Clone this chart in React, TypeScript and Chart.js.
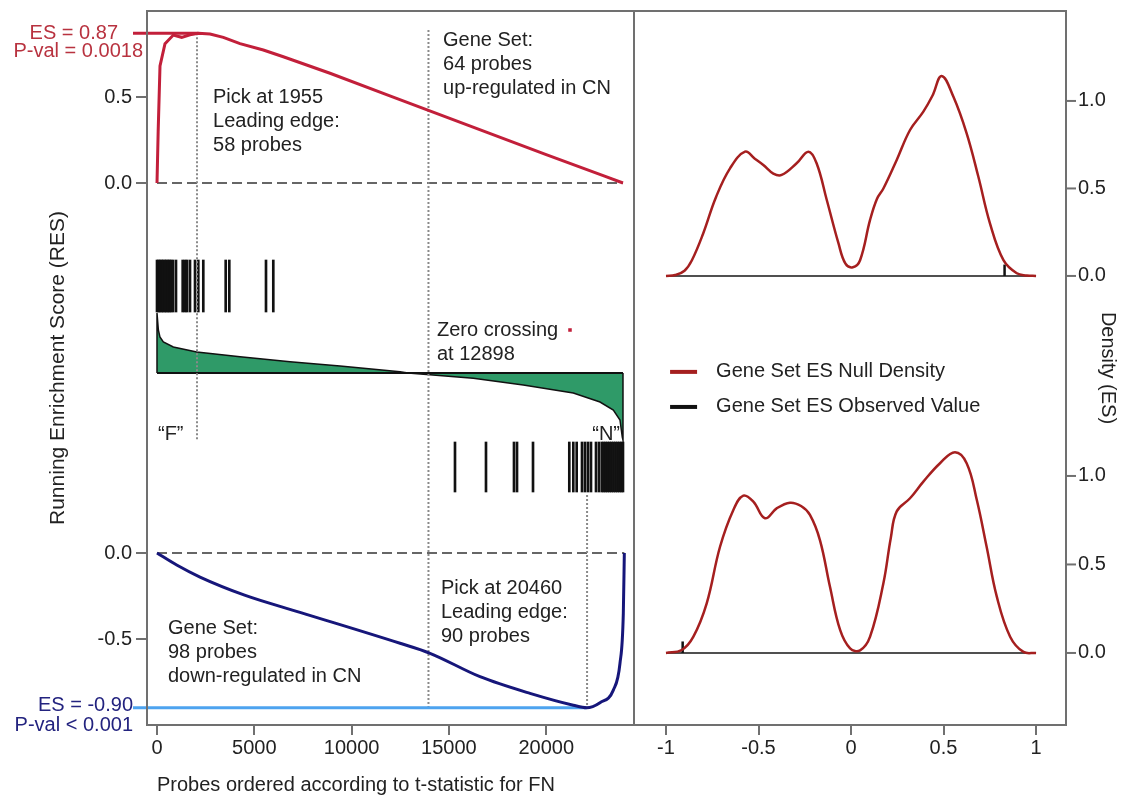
import React, { useEffect, useRef } from 'react';
import { Chart, registerables } from 'chart.js';

Chart.register(...registerables);

const FONT = '"Liberation Sans", Arial, Helvetica, sans-serif';
const W = 1127;
const H = 799;
const FRAME = '#707070';
const TEXT = '#222222';
const RED = '#c21f3a';
const RED_TEXT = '#b8323f';
const NAVY = '#16167a';
const BLUE_TEXT = '#23237f';
const LIGHT_BLUE = '#4da3ef';
const GREEN = '#2f9a68';
const DENSITY_RED = '#a51f1f';

// ---------- Left panel: probes ----------
const probeTicks = [0, 5000, 10000, 15000, 20000];
const probeRange = [-514, 24512];
const resTicksTop = [0, 0.5];
const resTicksBottom = [0, -0.5];

// Up-regulated gene set running enrichment score
const upResX = [0, 60, 154, 411, 838, 1268, 1696, 2124, 2724, 3408, 4265, 5463, 6491, 8890, 12000, 16000, 20000, 23000, 23946];
const upResY = [0, 0.3, 0.68, 0.81, 0.86, 0.847, 0.862, 0.87, 0.866, 0.847, 0.81, 0.773, 0.734, 0.638, 0.505, 0.335, 0.165, 0.04, 0];
const upES = 0.87;
const upESLineX = [-1233, 2124];
const upHits = [0, 80, 160, 240, 320, 400, 480, 560, 640, 720, 822, 976, 1320, 1439, 1542, 1696, 1953, 2122, 2379, 3530, 3715, 5601, 5976];
const upHitBand = [0.61, 1.13];

// Ranked t-statistic (green area)
const rankX = [0, 0, 70, 150, 325, 838, 2040, 4265, 6835, 9404, 12487, 12898, 16254, 18823, 21393, 22765, 23450, 23792, 23910, 23946, 23946];
const rankY = [0, 0.6, 0.43, 0.36, 0.31, 0.26, 0.21, 0.163, 0.113, 0.07, 0.013, 0, -0.053, -0.12, -0.2, -0.29, -0.37, -0.47, -0.64, -0.67, 0];
const zeroDot = { x: 21223, y: 0.43 };

// Down-regulated gene set running enrichment score
const downResX = [0, 1012, 2210, 4500, 7348, 12487, 14029, 16598, 19168, 21393, 22079, 22765, 23450, 23792, 23963, 24015];
const downResY = [0, -0.07, -0.14, -0.245, -0.345, -0.525, -0.583, -0.719, -0.816, -0.885, -0.9, -0.87, -0.797, -0.641, -0.351, 0];
const downES = -0.9;
const downESLineX = [-1233, 22079];
const downHits = [15313, 16906, 18345, 18500, 19322, 21187, 21393, 21567, 21840, 21994, 22148, 22302, 22559, 22713, 22860, 22960, 23060, 23160, 23260, 23360, 23460, 23560, 23660, 23760, 23860, 23946];
const downHitBand = [-1.19, -0.69];

// Vertical guide lines (x position, axis, y extent)
const guideX = [2055, 13950, 22100];
const guideAxis = ['yTop', 'yTop', 'yBot'];
const guideFrom = [0.87, 0.89, 0.337];
const guideTo = [-1.494, -3.064, -0.913];

const leftNotes = [
  { axis: 'yTop', x: 2878, y: 0.5, lines: ['Pick at 1955', 'Leading edge:', '58 probes'] },
  { axis: 'yTop', x: 14697, y: 0.831, lines: ['Gene Set:', '64 probes', 'up-regulated in CN'] },
  { axis: 'yMid', x: 14388, y: 0.43, lines: ['Zero crossing', 'at 12898'] },
  { axis: 'yBot', x: 14594, y: -0.209, lines: ['Pick at 20460', 'Leading edge:', '90 probes'] },
  { axis: 'yBot', x: 565, y: -0.436, lines: ['Gene Set:', '98 probes', 'down-regulated in CN'] },
];
const endLabels = [
  { axis: 'yMid', x: 50, y: -0.61, text: '\u201CF\u201D', align: 'left' },
  { axis: 'yMid', x: 23792, y: -0.61, text: '\u201CN\u201D', align: 'right' },
];
const esLabels = [
  { axis: 'yTop', y: 0.87, text: 'ES = 0.87', dx: -29, color: RED_TEXT },
  { axis: 'yTop', y: 0.762, text: 'P-val = 0.0018', dx: -4, color: RED_TEXT },
  { axis: 'yBot', y: -0.884, text: 'ES = -0.90', dx: -14, color: BLUE_TEXT },
  { axis: 'yBot', y: -1.0, text: 'P-val < 0.001', dx: -14, color: BLUE_TEXT },
];

// ---------- Right panel: ES null densities ----------
const esTicks = [-1, -0.5, 0, 0.5, 1];
const esRange = [-1.173, 1.162];
const densityTicks = [0, 0.5, 1.0];
const nullTopX = [-1.0, -0.95, -0.9, -0.86, -0.8, -0.73, -0.654, -0.573, -0.52, -0.474, -0.42, -0.375, -0.294, -0.23, -0.186, -0.131, -0.068, -0.03, 0.01, 0.049, 0.103, 0.14, 0.175, 0.247, 0.319, 0.391, 0.44, 0.49, 0.553, 0.625, 0.688, 0.751, 0.824, 0.896, 0.95, 1.0];
const nullTopY = [0, 0.005, 0.03, 0.09, 0.24, 0.45, 0.615, 0.71, 0.67, 0.634, 0.585, 0.577, 0.644, 0.71, 0.644, 0.434, 0.187, 0.07, 0.05, 0.09, 0.32, 0.44, 0.5, 0.663, 0.834, 0.939, 1.03, 1.143, 1.025, 0.815, 0.568, 0.301, 0.09, 0.015, 0.003, 0];
const nullBotX = [-1.0, -0.915, -0.852, -0.78, -0.708, -0.636, -0.582, -0.528, -0.465, -0.402, -0.33, -0.27, -0.222, -0.168, -0.114, -0.059, -0.005, 0.049, 0.103, 0.175, 0.215, 0.247, 0.319, 0.391, 0.481, 0.562, 0.625, 0.68, 0.733, 0.788, 0.86, 0.932, 1.0];
const nullBotY = [0, 0.017, 0.092, 0.28, 0.6, 0.808, 0.889, 0.855, 0.761, 0.817, 0.849, 0.83, 0.78, 0.638, 0.375, 0.13, 0.026, 0.015, 0.092, 0.394, 0.65, 0.8, 0.874, 0.968, 1.072, 1.134, 1.072, 0.864, 0.6, 0.318, 0.092, 0.006, 0];
const observedTop = 0.83;
const observedBottom = -0.91;
const observedMarkHeight = 0.065;
const legendItems = [
  { label: 'Gene Set ES Null Density', color: DENSITY_RED, y: 1.588 },
  { label: 'Gene Set ES Observed Value', color: '#111111', y: 1.39 },
];
const legendX = -0.978;

const zip = (xs: number[], ys: number[]) => xs.map((x, i) => ({ x, y: ys[i] }));
const flat = (y: number, x0: number, x1: number) => [{ x: x0, y }, { x: x1, y }];

const line = (ctx: CanvasRenderingContext2D, x0: number, y0: number, x1: number, y1: number) => {
  ctx.beginPath();
  ctx.moveTo(x0, y0);
  ctx.lineTo(x1, y1);
  ctx.stroke();
};

const leftDecor = {
  id: 'leftDecor',
  afterDraw(chart: any) {
    const { ctx, chartArea: a, scales } = chart;
    const xs = scales.x;
    ctx.save();
    ctx.strokeStyle = FRAME;
    ctx.lineWidth = 2;
    ctx.strokeRect(a.left, a.top, a.right - a.left, a.bottom - a.top);
    ctx.font = `20px ${FONT}`;
    ctx.textBaseline = 'middle';
    ctx.fillStyle = TEXT;
    const yTicks = (scale: any, vals: number[]) => {
      vals.forEach((v) => {
        const py = scale.getPixelForValue(v);
        line(ctx, a.left - 11, py, a.left, py);
        ctx.textAlign = 'right';
        ctx.fillText(v.toFixed(1), a.left - 15, py);
      });
    };
    yTicks(scales.yTop, resTicksTop);
    yTicks(scales.yBot, resTicksBottom);
    leftNotes.forEach((n) => {
      const px = xs.getPixelForValue(n.x);
      const py = scales[n.axis].getPixelForValue(n.y);
      ctx.textAlign = 'left';
      n.lines.forEach((t, i) => ctx.fillText(t, px, py + i * 24));
    });
    endLabels.forEach((n) => {
      ctx.textAlign = n.align as CanvasTextAlign;
      ctx.fillText(n.text, xs.getPixelForValue(n.x), scales[n.axis].getPixelForValue(n.y));
    });
    esLabels.forEach((l) => {
      ctx.fillStyle = l.color;
      ctx.textAlign = 'right';
      ctx.fillText(l.text, a.left + l.dx, scales[l.axis].getPixelForValue(l.y));
    });
    ctx.fillStyle = TEXT;
    ctx.save();
    ctx.translate(58, (a.top + a.bottom) / 2);
    ctx.rotate(-Math.PI / 2);
    ctx.textAlign = 'center';
    ctx.font = `21px ${FONT}`;
    ctx.fillText('Running Enrichment Score (RES)', 0, 0);
    ctx.restore();
    ctx.textAlign = 'left';
    ctx.fillText('Probes ordered according to t-statistic for FN', a.left + 10, 785);
    ctx.restore();
  },
};

const rightDecor = {
  id: 'rightDecor',
  afterDraw(chart: any) {
    const { ctx, chartArea: a, scales } = chart;
    ctx.save();
    ctx.strokeStyle = FRAME;
    ctx.lineWidth = 2;
    ctx.strokeRect(a.left, a.top, a.right - a.left, a.bottom - a.top);
    ctx.font = `20px ${FONT}`;
    ctx.textBaseline = 'middle';
    ctx.fillStyle = TEXT;
    [scales.yDT, scales.yDB].forEach((scale: any) => {
      densityTicks.forEach((v) => {
        const py = scale.getPixelForValue(v);
        line(ctx, a.right, py, a.right + 10, py);
        ctx.textAlign = 'left';
        ctx.fillText(v.toFixed(1), a.right + 12, py);
      });
    });
    legendItems.forEach((it) => {
      const px = scales.x.getPixelForValue(legendX);
      const py = scales.yDB.getPixelForValue(it.y);
      ctx.strokeStyle = it.color;
      ctx.lineWidth = 4;
      line(ctx, px, py, px + 27, py);
      ctx.textAlign = 'left';
      ctx.fillText(it.label, px + 46, py);
    });
    ctx.save();
    ctx.translate(a.right + 42, (a.top + a.bottom) / 2);
    ctx.rotate(Math.PI / 2);
    ctx.textAlign = 'center';
    ctx.fillText('Density (ES)', 0, 0);
    ctx.restore();
    ctx.restore();
  },
};

const xAxis = (range: number[], ticks: number[]) => ({
  type: 'linear',
  min: range[0],
  max: range[1],
  offset: false,
  afterBuildTicks: (s: any) => {
    s.ticks = ticks.map((v) => ({ value: v }));
  },
  afterFit: (s: any) => {
    s.height = 74;
  },
  grid: { offset: false, drawOnChartArea: false, drawTicks: true, tickLength: 10, color: FRAME, lineWidth: 2 },
  border: { display: false },
  ticks: {
    font: { family: FONT, size: 20 },
    color: TEXT,
    padding: 1,
    maxRotation: 0,
    autoSkip: false,
    callback: (v: any) => String(v),
  },
});

const hiddenY = (min: number, max: number) => ({ type: 'linear', display: false, min, max });

const baseOptions = (padding: any, scales: any) => ({
  responsive: false,
  maintainAspectRatio: false,
  animation: false,
  events: [],
  layout: { padding },
  plugins: { legend: { display: false }, tooltip: { enabled: false } },
  elements: { point: { radius: 0 } },
  scales,
});

function leftConfig(): any {
  const guides = guideX.map((gx, i) => ({
    type: 'line',
    yAxisID: guideAxis[i],
    data: [{ x: gx, y: guideFrom[i] }, { x: gx, y: guideTo[i] }],
    borderColor: '#8a8a8a',
    borderWidth: 2,
    borderDash: [2, 2],
    pointRadius: 0,
  }));
  return {
    type: 'line',
    data: {
      datasets: [
        { yAxisID: 'yTop', data: zip(upResX, upResY), borderColor: RED, borderWidth: 3, pointRadius: 0 },
        { yAxisID: 'yBot', data: zip(downResX, downResY), borderColor: NAVY, borderWidth: 3, pointRadius: 0, cubicInterpolationMode: 'monotone' },
        { yAxisID: 'yTop', data: flat(upES, upESLineX[0], upESLineX[1]), borderColor: RED, borderWidth: 3, pointRadius: 0, clip: false },
        { yAxisID: 'yBot', data: flat(downES, downESLineX[0], downESLineX[1]), borderColor: LIGHT_BLUE, borderWidth: 3, pointRadius: 0, clip: false },
        {
          yAxisID: 'yMid', data: [zeroDot], showLine: false, pointRadius: 2.5, pointStyle: 'rect',
          pointBackgroundColor: RED, pointBorderWidth: 0,
        },
        ...guides,
        { yAxisID: 'yMid', data: flat(0, 0, 23946), borderColor: '#111111', borderWidth: 2, pointRadius: 0 },
        {
          yAxisID: 'yMid', data: zip(rankX, rankY), borderColor: '#111111', borderWidth: 1.5,
          backgroundColor: GREEN, fill: 'origin', pointRadius: 0,
        },
        {
          type: 'bar', yAxisID: 'yMid', data: upHits.map((x) => ({ x, y: [upHitBand[0], upHitBand[1]] })),
          backgroundColor: '#111111', borderWidth: 0, barThickness: 2, grouped: false,
        },
        {
          type: 'bar', yAxisID: 'yMid', data: downHits.map((x) => ({ x, y: [downHitBand[0], downHitBand[1]] })),
          backgroundColor: '#111111', borderWidth: 0, barThickness: 2, grouped: false,
        },
        { yAxisID: 'yTop', data: flat(0, 0, 23946), borderColor: '#666666', borderWidth: 2, borderDash: [10, 5], pointRadius: 0 },
        { yAxisID: 'yBot', data: flat(0, 0, 24015), borderColor: '#666666', borderWidth: 2, borderDash: [10, 5], pointRadius: 0 },
      ],
    },
    options: baseOptions({ left: 147, right: W - 634, top: 11, bottom: 0 }, {
      x: xAxis(probeRange, probeTicks),
      yTop: hiddenY(-3.151, 1.0),
      yMid: hiddenY(-3.52, 3.62),
      yBot: hiddenY(-1.0, 3.151),
    }),
    plugins: [leftDecor],
  };
}

function rightConfig(): any {
  return {
    type: 'line',
    data: {
      datasets: [
        { yAxisID: 'yDT', data: zip(nullTopX, nullTopY), borderColor: DENSITY_RED, borderWidth: 2.5, tension: 0.4, pointRadius: 0 },
        { yAxisID: 'yDB', data: zip(nullBotX, nullBotY), borderColor: DENSITY_RED, borderWidth: 2.5, tension: 0.4, pointRadius: 0 },
        { yAxisID: 'yDT', data: [{ x: observedTop, y: 0 }, { x: observedTop, y: observedMarkHeight }], borderColor: '#111111', borderWidth: 2.5, pointRadius: 0 },
        { yAxisID: 'yDB', data: [{ x: observedBottom, y: 0 }, { x: observedBottom, y: observedMarkHeight }], borderColor: '#111111', borderWidth: 2.5, pointRadius: 0 },
        { yAxisID: 'yDT', data: flat(0, -1, 1), borderColor: '#505050', borderWidth: 2, pointRadius: 0 },
        { yAxisID: 'yDB', data: flat(0, -1, 1), borderColor: '#505050', borderWidth: 2, pointRadius: 0 },
      ],
    },
    options: baseOptions({ left: 634, right: W - 1066, top: 11, bottom: 0 }, {
      x: xAxis(esRange, esTicks),
      yDT: hiddenY(-2.566, 1.514),
      yDB: hiddenY(-0.407, 3.627),
    }),
    plugins: [rightDecor],
  };
}

export default function App() {
  const leftRef = useRef<HTMLCanvasElement>(null);
  const rightRef = useRef<HTMLCanvasElement>(null);
  useEffect(() => {
    const l = new Chart(leftRef.current as HTMLCanvasElement, leftConfig());
    const r = new Chart(rightRef.current as HTMLCanvasElement, rightConfig());
    return () => {
      l.destroy();
      r.destroy();
    };
  }, []);
  const cs: React.CSSProperties = { position: 'absolute', left: 0, top: 0, width: W, height: H };
  return (
    <div style={{ position: 'absolute', left: 0, top: 0, width: W, height: H, background: '#ffffff' }}>
      <canvas ref={leftRef} width={W} height={H} style={cs} />
      <canvas ref={rightRef} width={W} height={H} style={cs} />
    </div>
  );
}
